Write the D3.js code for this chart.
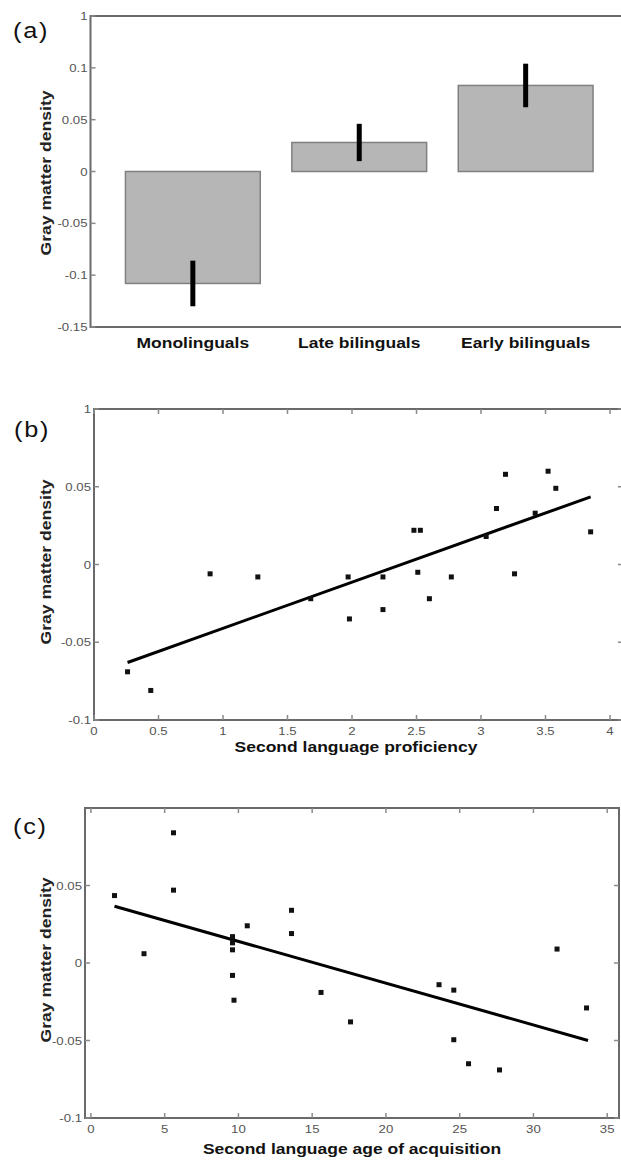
<!DOCTYPE html>
<html><head><meta charset="utf-8">
<script src="https://cdn.jsdelivr.net/npm/d3@7"></script>
<style>
html,body{margin:0;padding:0;background:#fff;}
svg{display:block;font-family:"Liberation Sans",Arial,sans-serif;}
</style></head>
<body>
<svg id="chart" width="621" height="1163"></svg>
<script>
// ---- Data ----
const categories = ["Monolinguals", "Late bilinguals", "Early bilinguals"];
const groupMeans = [-0.108, 0.028, 0.083];
const groupErrors = [0.022, 0.018, 0.021];

const profX = [0.26, 0.44, 0.90, 1.27, 1.68, 1.97, 1.98, 2.24, 2.24, 2.48, 2.53, 2.51, 2.60, 2.77, 3.04, 3.12, 3.19, 3.26, 3.42, 3.52, 3.58, 3.85];
const profY = [-0.069, -0.081, -0.006, -0.008, -0.022, -0.008, -0.035, -0.008, -0.029, 0.022, 0.022, -0.005, -0.022, -0.008, 0.018, 0.036, 0.058, -0.006, 0.033, 0.060, 0.049, 0.021];
const profFitX = [0.26, 3.85];
const profFitY = [-0.063, 0.0435];

const ageX = [1.6, 3.6, 5.6, 5.6, 9.6, 9.6, 9.6, 9.6, 9.7, 10.6, 13.6, 13.6, 15.6, 17.6, 23.6, 24.6, 24.6, 25.6, 27.7, 31.6, 33.6];
const ageY = [0.0435, 0.006, 0.084, 0.047, 0.017, 0.013, 0.0085, -0.008, -0.024, 0.024, 0.034, 0.019, -0.019, -0.038, -0.014, -0.0175, -0.0495, -0.065, -0.069, 0.009, -0.029];
const ageFitX = [1.6, 33.7];
const ageFitY = [0.0366, -0.050];

const yTicksA = [0.15, 0.1, 0.05, 0, -0.05, -0.1, -0.15];
const yTickLabelsA = ["1", "0.1", "0.05", "0", "-0.05", "-0.1", "-0.15"];
const yTicksB = [0.1, 0.05, 0, -0.05, -0.1];
const yTickLabelsB = ["1", "0.05", "0", "-0.05", "-0.1"];
const xTicksB = [0, 0.5, 1, 1.5, 2, 2.5, 3, 3.5, 4];
const xTickLabelsB = ["0", "0.5", "1", "1.5", "2", "2.5", "3", "3.5", "4"];
const yTicksC = [0.05, 0, -0.05, -0.1];
const yTickLabelsC = ["0.05", "0", "-0.05", "-0.1"];
const xTicksC = [0, 5, 10, 15, 20, 25, 30, 35];
const xTickLabelsC = ["0", "5", "10", "15", "20", "25", "30", "35"];

// ---- Drawing ----
const svg = d3.select("#chart");
const axisColor = "#6a6a6a";
const tickColor = "#8a8a8a";
const labelColor = "#555";
const SX = 1.25; // horizontal stretch of the original figure

function stretchedText(g, x, y, txt, opts) {
  const t = g.append("text")
    .attr("transform", `translate(${x},${y}) scale(${opts.sx || SX},1)`)
    .attr("text-anchor", opts.anchor || "start")
    .attr("font-size", opts.size).attr("fill", opts.fill || "#111")
    .text(txt);
  if (opts.bold) t.attr("font-weight", "bold");
  if (opts.ls) t.attr("letter-spacing", opts.ls);
  return t;
}
function frame(g, x0, x1, y0, y1) {
  g.append("rect").attr("x", x0).attr("y", y0).attr("width", x1 - x0).attr("height", y1 - y0)
    .attr("fill", "none").attr("stroke", axisColor).attr("stroke-width", 2);
}
function yAxis(g, y, ticks, labels, x0, x1) {
  ticks.forEach((t, i) => {
    const yy = y(t);
    g.append("line").attr("x1", x0).attr("x2", x0 + 5).attr("y1", yy).attr("y2", yy)
      .attr("stroke", tickColor).attr("stroke-width", 1.5);
    g.append("line").attr("x1", x1).attr("x2", x1 - 5).attr("y1", yy).attr("y2", yy)
      .attr("stroke", tickColor).attr("stroke-width", 1.5);
    stretchedText(g, x0 - 3, yy + 4, labels[i], {anchor: "end", size: 11, fill: labelColor, sx: 1.2});
  });
}
function xAxis(g, x, ticks, labels, y0, y1) {
  ticks.forEach((t, i) => {
    const xx = x(t);
    g.append("line").attr("x1", xx).attr("x2", xx).attr("y1", y1).attr("y2", y1 - 5)
      .attr("stroke", tickColor).attr("stroke-width", 1.5);
    g.append("line").attr("x1", xx).attr("x2", xx).attr("y1", y0).attr("y2", y0 + 5)
      .attr("stroke", tickColor).attr("stroke-width", 1.5);
    stretchedText(g, xx, y1 + 15, labels[i], {anchor: "middle", size: 11, fill: labelColor, sx: 1.2});
  });
}
function yLabel(g, cx, cy, txt) {
  g.append("text").attr("transform", `translate(${cx},${cy}) rotate(-90)`)
    .attr("text-anchor", "middle").attr("font-size", 15).attr("font-weight", "bold")
    .attr("textLength", 165).attr("lengthAdjust", "spacingAndGlyphs")
    .attr("fill", "#222").text(txt);
}
function panelLabel(g, x, y, txt) {
  stretchedText(g, x, y, txt, {size: 22, fill: "#111", ls: 1.5, sx: 1.15});
}

// Panel (a)
{
  const g = svg.append("g");
  const L = 90.5, R = 628, T = 16, B = 327;
  const x = d3.scaleLinear().domain([0.385, 3.615]).range([L, R]);
  const y = d3.scaleLinear().domain([-0.15, 0.15]).range([B, T]);
  const bw = 0.81;
  g.selectAll("rect.bar").data(groupMeans).enter().append("rect").attr("class", "bar")
    .attr("x", (d, i) => x(i + 1 - bw / 2))
    .attr("width", (d, i) => x(i + 1 + bw / 2) - x(i + 1 - bw / 2))
    .attr("y", d => y(Math.max(0, d)))
    .attr("height", d => Math.abs(y(d) - y(0)))
    .attr("fill", "#b6b6b6").attr("stroke", "#808080").attr("stroke-width", 1.5);
  g.selectAll("line.err").data(groupMeans).enter().append("line").attr("class", "err")
    .attr("x1", (d, i) => x(i + 1)).attr("x2", (d, i) => x(i + 1))
    .attr("y1", (d, i) => y(d - groupErrors[i])).attr("y2", (d, i) => y(d + groupErrors[i]))
    .attr("stroke", "#000").attr("stroke-width", 5);
  frame(g, L, R, T, B);
  yAxis(g, y, yTicksA, yTickLabelsA, L, R);
  categories.forEach((c, i) => {
    stretchedText(g, x(i + 1), 348, c, {anchor: "middle", size: 14, bold: true});
  });
  yLabel(g, 51, 173, "Gray matter density");
  panelLabel(g, 13, 38, "(a)");
}

// Panel (b)
{
  const g = svg.append("g");
  const L = 94, T = 409, B = 720;
  const x = d3.scaleLinear().domain([0, 4]).range([L, 610]);
  const R = x(4.1);
  const y = d3.scaleLinear().domain([-0.1, 0.1]).range([B, T]);
  g.append("line").attr("x1", x(profFitX[0])).attr("x2", x(profFitX[1]))
    .attr("y1", y(profFitY[0])).attr("y2", y(profFitY[1]))
    .attr("stroke", "#000").attr("stroke-width", 3);
  g.selectAll("rect.pt").data(profX).enter().append("rect").attr("class", "pt")
    .attr("x", (d) => x(d) - 2.5).attr("y", (d, i) => y(profY[i]) - 2.5)
    .attr("width", 5).attr("height", 5).attr("fill", "#111");
  frame(g, L, R, T, B);
  yAxis(g, y, yTicksB, yTickLabelsB, L, R);
  xAxis(g, x, xTicksB, xTickLabelsB, T, B);
  stretchedText(g, 356, 752, "Second language proficiency", {anchor: "middle", size: 14, bold: true});
  yLabel(g, 51, 562, "Gray matter density");
  panelLabel(g, 14, 437, "(b)");
}

// Panel (c)
{
  const g = svg.append("g");
  const L = 85, R = 619, T = 808, B = 1118;
  const x = d3.scaleLinear().domain([-0.4, 35.8]).range([L, R]);
  const y = d3.scaleLinear().domain([-0.1, 0.1]).range([B, T]);
  g.append("line").attr("x1", x(ageFitX[0])).attr("x2", x(ageFitX[1]))
    .attr("y1", y(ageFitY[0])).attr("y2", y(ageFitY[1]))
    .attr("stroke", "#000").attr("stroke-width", 3);
  g.selectAll("rect.pt").data(ageX).enter().append("rect").attr("class", "pt")
    .attr("x", (d) => x(d) - 2.5).attr("y", (d, i) => y(ageY[i]) - 2.5)
    .attr("width", 5).attr("height", 5).attr("fill", "#111");
  frame(g, L, R, T, B);
  yAxis(g, y, yTicksC, yTickLabelsC, L, R);
  xAxis(g, x, xTicksC, xTickLabelsC, T, B);
  stretchedText(g, 352, 1154, "Second language age of acquisition", {anchor: "middle", size: 14, bold: true});
  yLabel(g, 51, 960, "Gray matter density");
  panelLabel(g, 13, 834, "(c)");
}
</script>
</body></html>
